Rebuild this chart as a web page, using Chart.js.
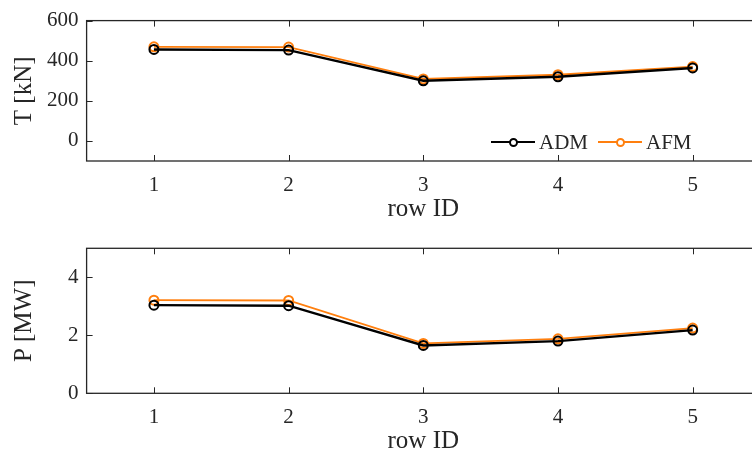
<!DOCTYPE html>
<html>
<head>
<meta charset="utf-8">
<script src="https://cdn.jsdelivr.net/npm/chart.js@4"></script>
<style>
  html, body { margin: 0; padding: 0; background: #fff; }
  body { width: 752px; height: 453px; overflow: hidden; position: relative; }
  .panel { position: absolute; left: 0; }
  #legend { position: absolute; left: 491px; top: 128px; height: 28px; font: 21px "Liberation Serif", serif; color: #262626; }
  .item { position: absolute; top: 0; height: 28px; }
  .item .ln { position: absolute; top: 13px; width: 44px; height: 0; border-top: 2px solid; }
  .item .mk { position: absolute; top: 10px; left: 18px; width: 5px; height: 5px; border: 2px solid; border-radius: 50%; background: #fff; }
  .item .tx { position: absolute; left: 48px; top: 0; line-height: 28px; white-space: nowrap; }
</style>
</head>
<body>
<div class="panel" style="top:0"><canvas id="canvas" width="790" height="226"></canvas></div>
<div class="panel" style="top:226px"><canvas id="canvas2" width="790" height="227"></canvas></div>
<div id="legend"></div>

<script>
// row ids on the x axis
const rowIds = [1, 2, 3, 4, 5];

// thrust [kN]
const thrustADM = [456, 453, 300, 320, 364];
const thrustAFM = [469, 468, 309, 330, 371];

// power [MW]
const powerADM = [3.04, 3.02, 1.65, 1.80, 2.18];
const powerAFM = [3.21, 3.20, 1.72, 1.88, 2.25];

// tick labels
const xTicks = [1, 2, 3, 4, 5];
const tTicks = [0, 200, 400, 600];
const pTicks = [0, 2, 4];

const seriesNames = ["ADM", "AFM"];
const seriesColors = ["#000000", "#FF7F0E"];

const axisColor = "#262626";
const fontFamily = '"Liberation Serif", "Times New Roman", serif';

const pts = (ys) => rowIds.map((x, i) => ({ x: x, y: ys[i] }));

// MATLAB style box with inward ticks
const boxPlugin = {
  id: "box",
  afterDraw(chart) {
    const { ctx, chartArea: a, scales } = chart;
    ctx.save();
    ctx.strokeStyle = axisColor;
    ctx.lineWidth = 1.3;
    ctx.strokeRect(a.left, a.top, a.right - a.left, a.bottom - a.top);
    ctx.lineWidth = 1;
    ctx.beginPath();
    scales.x.ticks.forEach(t => {
      const px = Math.round(scales.x.getPixelForValue(t.value)) + 0.5;
      ctx.moveTo(px, a.bottom); ctx.lineTo(px, a.bottom - 6);
      ctx.moveTo(px, a.top); ctx.lineTo(px, a.top + 6);
    });
    scales.y.ticks.forEach(t => {
      const py = Math.round(scales.y.getPixelForValue(t.value)) + 0.5;
      ctx.moveTo(a.left, py); ctx.lineTo(a.left + 6, py);
      ctx.moveTo(a.right, py); ctx.lineTo(a.right - 6, py);
    });
    ctx.stroke();
    ctx.restore();
  }
};

function makeChart(id, adm, afm, yMin, yMax, yTickList, yTitle, padTop, xHeight) {
  const ds = [adm, afm].map((ys, i) => ({
    label: seriesNames[i],
    data: pts(ys),
    borderColor: seriesColors[i],
    backgroundColor: seriesColors[i],
    borderWidth: i === 0 ? 2.4 : 1.8,
    pointRadius: 4.5,
    pointBorderWidth: 2,
    pointBackgroundColor: "rgba(0,0,0,0)",
    pointBorderColor: seriesColors[i],
    tension: 0
  }));

  return new Chart(document.getElementById(id).getContext("2d"), {
    type: "line",
    data: { datasets: ds },
    options: {
      responsive: false,
      animation: false,
      layout: { padding: { top: padTop, right: 30, left: 0, bottom: 0 } },
      plugins: { legend: { display: false }, tooltip: { enabled: false } },
      scales: {
        x: {
          type: "linear",
          min: 0.5,
          max: 5.5,
          afterBuildTicks: s => { s.ticks = xTicks.map(v => ({ value: v })); },
          afterFit: s => { s.height = xHeight; },
          grid: { display: false, drawTicks: false },
          border: { display: false },
          ticks: { color: axisColor, padding: 12, font: { family: fontFamily, size: 21 } },
          title: { display: true, text: "row ID", color: axisColor, padding: { top: 0, bottom: xHeight - 63 }, font: { family: fontFamily, size: 25 } }
        },
        y: {
          min: yMin,
          max: yMax,
          afterBuildTicks: s => { s.ticks = yTickList.map(v => ({ value: v })); },
          afterFit: s => { s.width = 86.6; },
          grid: { display: false, drawTicks: false },
          border: { display: false },
          ticks: { color: axisColor, padding: 8, font: { family: fontFamily, size: 21 } },
          title: { display: true, text: yTitle, color: axisColor, padding: { top: 9, bottom: 0 }, font: { family: fontFamily, size: 25 } }
        }
      }
    },
    plugins: [boxPlugin]
  });
}

makeChart("canvas", thrustADM, thrustAFM, -100, 600, tTicks, "T [kN]", 16, 65);
makeChart("canvas2", powerADM, powerAFM, 0, 5, pTicks, "P [MW]", 22.3, 59.7);

// legend inside the top panel (lower right)
const legend = document.getElementById("legend");
const offsets = [0, 107];
seriesNames.forEach((name, i) => {
  const item = document.createElement("div");
  item.className = "item";
  item.style.left = offsets[i] + "px";
  item.innerHTML = '<span class="ln"></span><span class="mk"></span><span class="tx"></span>';
  item.querySelector(".ln").style.borderColor = seriesColors[i];
  item.querySelector(".mk").style.borderColor = seriesColors[i];
  item.querySelector(".tx").textContent = name;
  legend.appendChild(item);
});
</script>
</body>
</html>
